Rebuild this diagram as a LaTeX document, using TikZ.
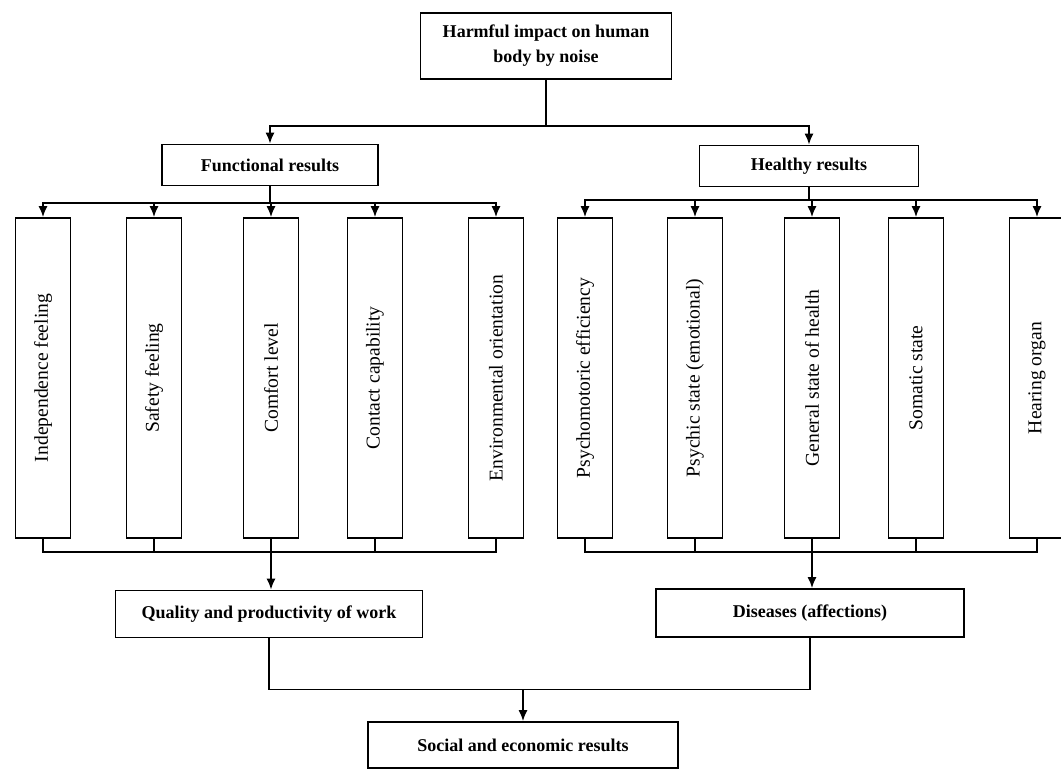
\documentclass[tikz,border=0pt]{standalone}
\usepackage{fontspec}
\setmainfont{Liberation Serif}
\usepackage{tikz}
\usetikzlibrary{arrows.meta}
\tikzstyle{arr} = [-{Latex[length=5.5pt,width=4.5pt]}]
\tikzstyle{hbox} = [draw,rectangle,inner sep=1pt,align=center,font=\fontsize{9}{12.5}\selectfont\bfseries]
\tikzstyle{vbox} = [draw,rectangle,rotate=90,minimum width=160pt,minimum height=27.5pt,inner sep=1pt,font=\fontsize{9.8}{11}\selectfont]

\begin{document}
\begin{tikzpicture}[x=0.5pt,y=-0.5pt,line width=0.85pt]

\useasboundingbox (0,0) rectangle (1061,770);
\clip (0,0) rectangle (1061,770);

\node[hbox,minimum width=125.5pt,minimum height=33pt] (hi) at (546,46) {Harmful impact on human\\body by noise};
\node[hbox,minimum width=108pt,minimum height=20.5pt] (fr) at (270,165) {Functional results};
\node[hbox,minimum width=109.5pt,minimum height=20.5pt] (hr) at (809,166) {Healthy results};

\node[vbox] (b1) at (43,378) {Independence feeling};
\node[vbox] (b2) at (154,378) {Safety feeling};
\node[vbox] (b3) at (271,378) {Comfort level};
\node[vbox] (b4) at (375,378) {Contact capability};
\node[vbox] (b5) at (496,378) {Environmental orientation};
\node[vbox] (b6) at (585,378) {Psychomotoric efficiency};
\node[vbox] (b7) at (695,378) {Psychic state (emotional)};
\node[vbox] (b8) at (812,378) {General state of health};
\node[vbox] (b9) at (916,378) {Somatic state};
\node[vbox] (b10) at (1037,378) {Hearing organ};

\node[hbox,minimum width=153.5pt,minimum height=23.5pt] (qw) at (269,614) {Quality and productivity of work};
\node[hbox,minimum width=154pt,minimum height=24pt] (di) at (810,613) {Diseases (affections)};
\node[hbox,minimum width=155pt,minimum height=23pt] (se) at (523,745) {Social and economic results};

% top split
\draw (hi.south) -- ++(0,46) coordinate (j0);
\draw[arr] (j0) -| (fr.north);
\draw[arr] (j0) -| (hr.north);

% functional branch
\draw (fr.south) -- ++(0,17) coordinate (jf);
\draw[arr] (jf) -| (b1.east);
\draw[arr] (jf) -| (b2.east);
\draw[arr] (jf) -| (b3.east);
\draw[arr] (jf) -| (b4.east);
\draw[arr] (jf) -| (b5.east);

% healthy branch
\draw (hr.south) -- ++(0,13) coordinate (jh);
\draw[arr] (jh) -| (b6.east);
\draw[arr] (jh) -| (b7.east);
\draw[arr] (jh) -| (b8.east);
\draw[arr] (jh) -| (b9.east);
\draw[arr] (jh) -| (b10.east);

% collecting lines
\draw (b1.west) -- ++(0,13) -| (b5.west);
\draw (b2.west) -- ++(0,13);
\draw (b4.west) -- ++(0,13);
\draw[arr] (b3.west) -- (b3.west |- qw.north);
\draw (b6.west) -- ++(0,13) -| (b10.west);
\draw (b7.west) -- ++(0,13);
\draw (b9.west) -- ++(0,13);
\draw[arr] (b8.west) -- (b8.west |- di.north);

% final join
\draw (qw.south) -- ++(0,51) coordinate (j2) -| (di.south);
\draw[arr] (j2 -| se.north) -- (se.north);

\end{tikzpicture}
\end{document}
